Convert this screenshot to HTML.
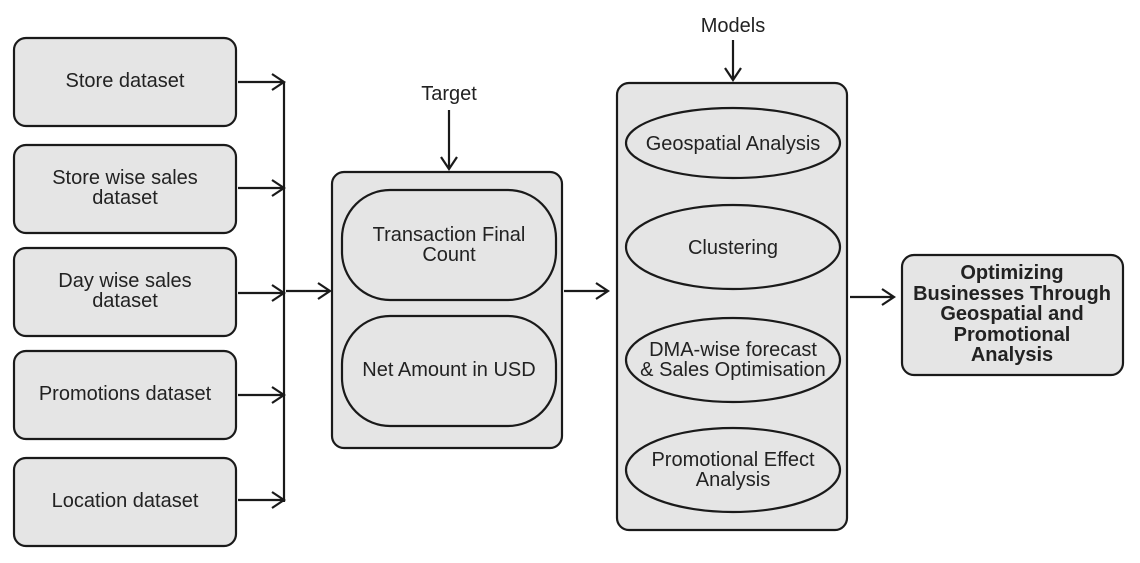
<!DOCTYPE html>
<html><head><style>body{margin:0;background:#fff}svg{display:block}text{font-family:"Liberation Sans",sans-serif;font-size:20px;fill:#222}</style></head><body>
<svg width="1140" height="563" viewBox="0 0 1140 563" xmlns="http://www.w3.org/2000/svg">
<g fill="#e5e5e5" stroke="#1a1a1a" stroke-width="2.2">
<rect x="14" y="38" width="222" height="88" rx="12"/>
<rect x="14" y="145" width="222" height="88" rx="12"/>
<rect x="14" y="248" width="222" height="88" rx="12"/>
<rect x="14" y="351" width="222" height="88" rx="12"/>
<rect x="14" y="458" width="222" height="88" rx="12"/>
<rect x="332" y="172" width="230" height="276" rx="12"/>
<rect x="342" y="190" width="214" height="110" rx="48"/>
<rect x="342" y="316" width="214" height="110" rx="48"/>
<rect x="617" y="83" width="230" height="447" rx="12"/>
<ellipse cx="733" cy="143" rx="107" ry="35"/>
<ellipse cx="733" cy="247" rx="107" ry="42"/>
<ellipse cx="733" cy="360" rx="107" ry="42"/>
<ellipse cx="733" cy="470" rx="107" ry="42"/>
<rect x="902" y="255" width="221" height="120" rx="12"/>
</g>
<g fill="none" stroke="#1a1a1a" stroke-width="2.2">
<path d="M284 82V502"/>
<path d="M238 82H284M272 74L284 82L272 90"/>
<path d="M238 188H284M272 180L284 188L272 196"/>
<path d="M238 293H284M272 285L284 293L272 301"/>
<path d="M238 395H284M272 387L284 395L272 403"/>
<path d="M238 500H284M272 492L284 500L272 508"/>
<path d="M286 291H330M318 283L330 291L318 299"/>
<path d="M449 110V169M441 157L449 169L457 157"/>
<path d="M564 291H608M596 283L608 291L596 299"/>
<path d="M733 40V80M725 68L733 80L741 68"/>
<path d="M850 297H894M882 289L894 297L882 305"/>
</g>
<g text-anchor="middle">
<text x="125" y="87">Store dataset</text>
<text x="125" y="184">Store wise sales</text><text x="125" y="204">dataset</text>
<text x="125" y="287">Day wise sales</text><text x="125" y="307">dataset</text>
<text x="125" y="400">Promotions dataset</text>
<text x="125" y="507">Location dataset</text>
<text x="449" y="100">Target</text>
<text x="449" y="241">Transaction Final</text><text x="449" y="261">Count</text>
<text x="449" y="376">Net Amount in USD</text>
<text x="733" y="32">Models</text>
<text x="733" y="150">Geospatial Analysis</text>
<text x="733" y="254">Clustering</text>
<text x="733" y="356">DMA-wise forecast</text><text x="733" y="376">&amp; Sales Optimisation</text>
<text x="733" y="466">Promotional Effect</text><text x="733" y="486">Analysis</text>
<g style="font-weight:bold;font-size:19px"><text x="1012" y="279" font-weight="bold">Optimizing</text><text x="1012" y="300" font-weight="bold">Businesses Through</text><text x="1012" y="320" font-weight="bold">Geospatial and</text><text x="1012" y="341" font-weight="bold">Promotional</text><text x="1012" y="361" font-weight="bold">Analysis</text></g>
</g>
</svg>
</body></html>
